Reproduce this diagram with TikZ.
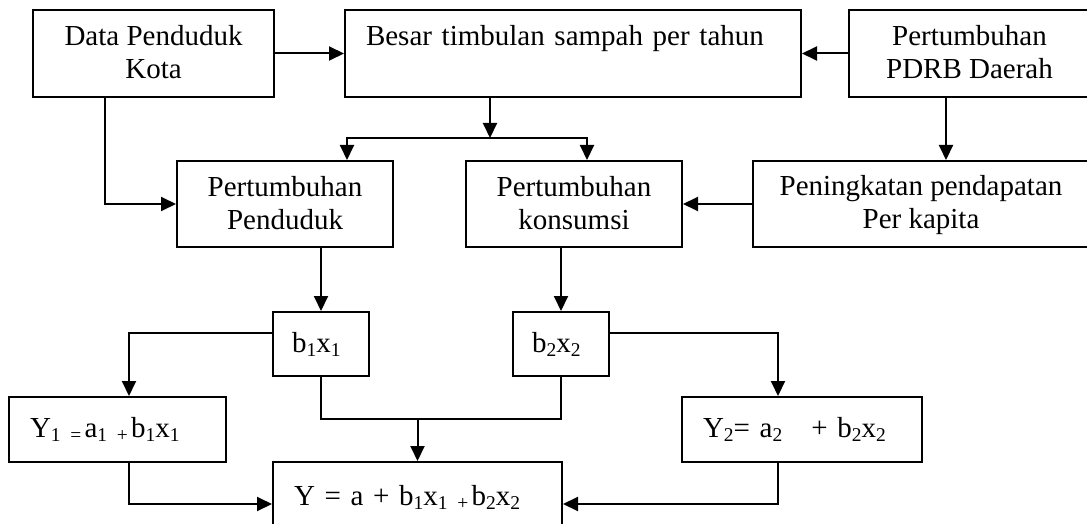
\documentclass[tikz,border=0pt]{standalone}
\usepackage{fontspec}
\setmainfont{Liberation Serif}
\usetikzlibrary{arrows.meta}
% strut used on every line of the two-line boxes
\newcommand{\boxstrut}{\rule[-5pt]{0pt}{28pt}}
% small lowered index, as in b1x1
\newcommand{\subt}[1]{\raisebox{-4pt}{\fontsize{19.5}{19.5}\selectfont #1}}

\begin{document}
\begin{tikzpicture}[x=1pt,y=-1pt,
  base/.style={draw, line width=2pt, inner sep=0pt, font=\fontsize{29}{33}\selectfont},
  cbox/.style={base, align=center},
  lbox/.style={base, align=left, inner xsep=21pt},
  line/.style={line width=2pt},
  conn/.style={line, -{Triangle[length=15pt,width=14pt]}}]

\useasboundingbox (0,0) rectangle (1087,524);

% boxes of the first row
\node[cbox, minimum width=241pt, minimum height=87pt] (kota) at (153.5,53.5)
  {\boxstrut Data Penduduk\\\boxstrut Kota};
\node[lbox, text width=414pt, minimum height=87pt] (sampah) at (573,53.5)
  {\boxstrut Besar timbulan sampah per tahun\\\boxstrut};
\node[cbox, minimum width=241pt, minimum height=87pt] (pdrb) at (969.5,53.5)
  {\boxstrut Pertumbuhan\\\boxstrut PDRB Daerah};

% boxes of the second row
\node[cbox, minimum width=216pt, minimum height=86pt] (pend) at (285,204)
  {\boxstrut Pertumbuhan\\\boxstrut Penduduk};
\node[cbox, minimum width=216pt, minimum height=86pt] (kons) at (574,204)
  {\boxstrut Pertumbuhan\\\boxstrut konsumsi};
\node[cbox, minimum width=336pt, minimum height=86pt] (kap) at (921,204)
  {\boxstrut Peningkatan pendapatan\\\boxstrut Per kapita};

% regression terms
\node[lbox, text width=58pt, inner xsep=19pt, minimum height=64pt] (bxa) at (321,344)
  {b\subt{1}x\subt{1}};
\node[lbox, text width=58pt, inner xsep=19pt, minimum height=64pt] (bxb) at (561,344)
  {b\subt{2}x\subt{2}};

% equations
\node[lbox, text width=175pt, minimum height=65pt] (ya) at (117.5,429.5)
  {Y\subt{1\ =\,}a\subt{1\ +\,}b\subt{1}x\subt{1}};
\node[lbox, text width=198pt, minimum height=65pt] (yb) at (802,429.5)
  {Y\subt{2}= a\subt{2}\ \ \ + b\subt{2}x\subt{2}};
\node[lbox, text width=247pt, minimum height=70pt] (y) at (417.5,497)
  {Y = a + b\subt{1}x\subt{1\ +\,}b\subt{2}x\subt{2}};

% bend points of the connectors
\coordinate (split) at (490,138);
\coordinate (sl) at (347,138);
\coordinate (sr) at (587,138);
\coordinate (kx) at (105,203);
\coordinate (px) at (946,0);
\coordinate (la) at (129,333);
\coordinate (lb) at (778,333);
\coordinate (mid) at (417.5,419);
\coordinate (low) at (0,504);

% connectors
\draw[conn] (kota) -- (sampah);
\draw[conn] (pdrb) -- (sampah);
\draw[conn] (sampah.south -| split) -- (split);
\draw[conn] (split) -- (sl) -- (sl |- pend.north);
\draw[conn] (split) -- (sr) -- (sr |- kons.north);
\draw[conn] (kota.south -| kx) |- (pend.west);
\draw[conn] (pdrb.south -| px) -- (px |- kap.north);
\draw[conn] (kap) -- (kons);
\draw[conn] (pend.south -| bxa) -- (bxa.north);
\draw[conn] (kons.south -| bxb) -- (bxb.north);
\draw[conn] (bxa.west |- la) -| (la |- ya.north);
\draw[conn] (bxb.east |- lb) -| (lb |- yb.north);
\draw[line] (bxa.south) |- (mid) -| (bxb.south);
\draw[conn] (mid) -- (y.north);
\draw[conn] (ya.south -| la) |- (y.west |- low);
\draw[conn] (yb.south -| lb) |- (y.east |- low);
\end{tikzpicture}
\end{document}
